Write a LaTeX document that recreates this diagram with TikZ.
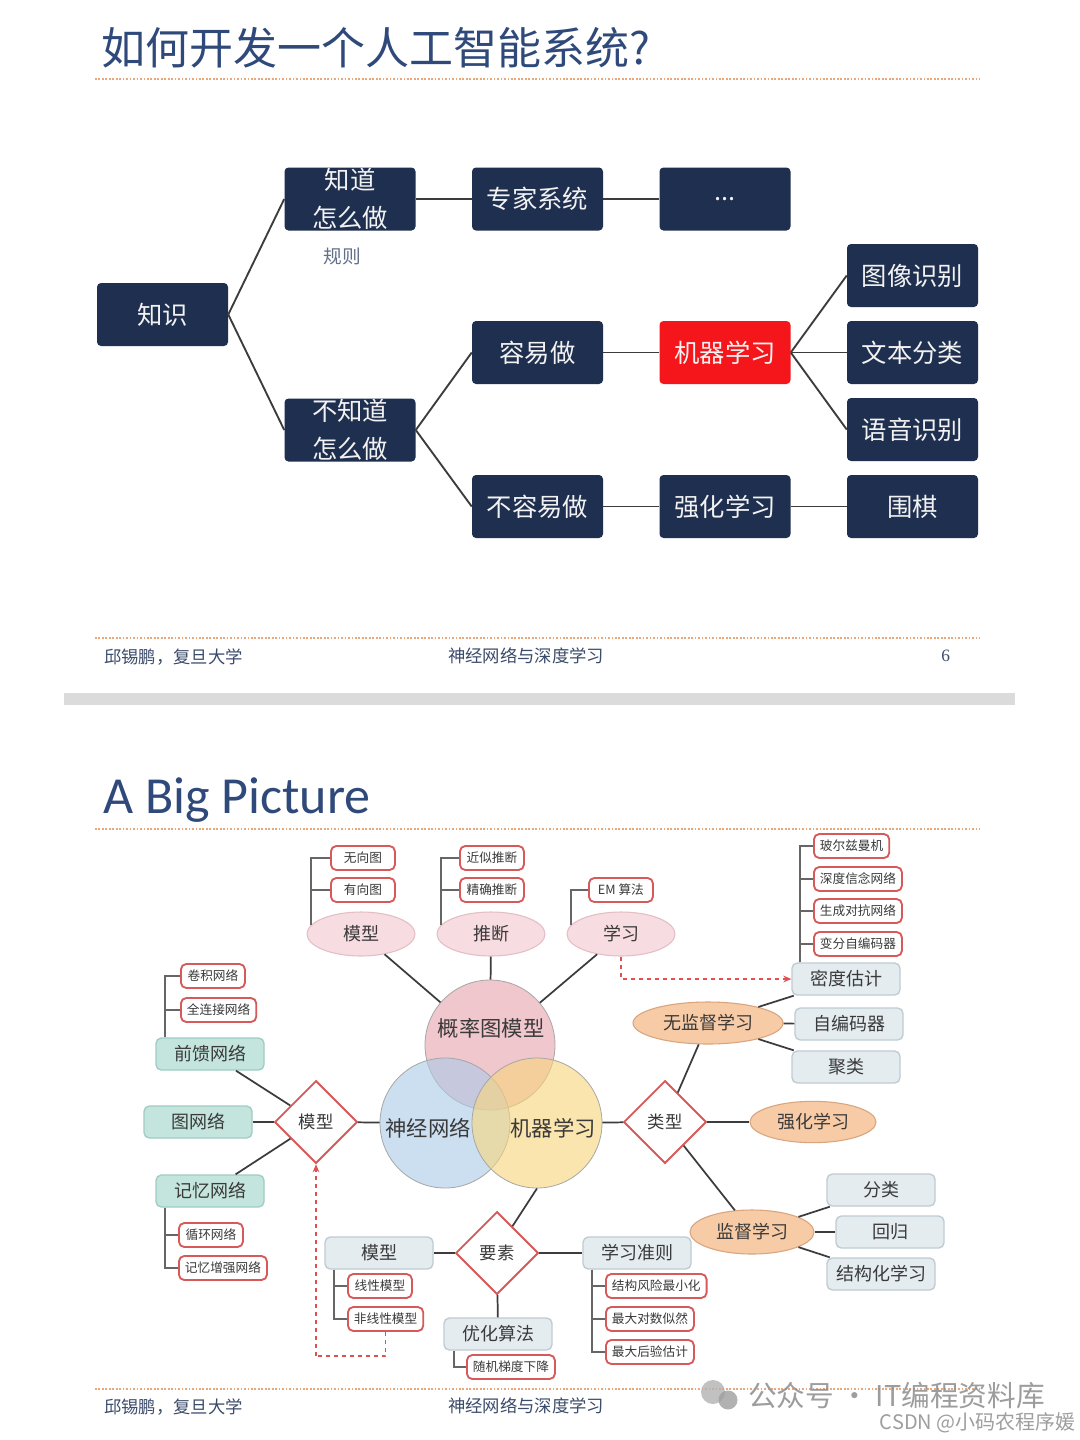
\documentclass[tikz,border=0pt]{standalone}
\usepackage{fontspec}
\setmainfont{Liberation Serif}
\newfontfamily\cjk{Noto Sans CJK SC}
\newfontfamily\latin{Carlito}
\usetikzlibrary{shapes.geometric,arrows.meta,calc}
\definecolor{navy}{HTML}{1E2F4F}
\definecolor{titleblue}{HTML}{2F4A7A}
\definecolor{dotorange}{HTML}{E9A77A}
\definecolor{footblue}{HTML}{3B4B6B}
\definecolor{linegrey}{HTML}{3C3C3C}
\definecolor{mlred}{HTML}{F5161B}
\definecolor{boxred}{HTML}{D65A5A}
\definecolor{greyfill}{HTML}{E4ECF0}
\definecolor{greydraw}{HTML}{BFCBD3}
\definecolor{tealfill}{HTML}{C4E5DE}
\definecolor{tealdraw}{HTML}{9FCCC3}
\definecolor{pinkfill}{HTML}{F7DCE1}
\definecolor{pinkdraw}{HTML}{E3BEC5}
\definecolor{orfill}{HTML}{F6CBA6}
\definecolor{ordraw}{HTML}{D9A47E}
\definecolor{vpink}{HTML}{E6A3AD}
\definecolor{vblue}{HTML}{AACBE9}
\definecolor{vyellow}{HTML}{F8D57B}
\definecolor{txtgrey}{HTML}{3A3A3A}
\definecolor{offwhite}{HTML}{F2F2F2}
\definecolor{dashred}{HTML}{E05050}
\tikzset{
  navybox/.style={fill=navy, rounded corners=3pt, minimum width=98.25pt, minimum height=47.25pt,
    text=offwhite, font=\cjk\fontsize{19}{28.5}\selectfont, inner sep=0pt, align=center},
  tline/.style={draw=linegrey, line width=1.4pt},
  dotline/.style={draw=dotorange, line width=1.3pt, dash pattern=on 1.3pt off 1.3pt},
  footer/.style={anchor=west, text=footblue, font=\cjk\fontsize{13}{13}\selectfont, inner sep=0pt},
  venn/.style={circle, minimum size=97.5pt, inner sep=0pt, draw=black!35, line width=0.6pt, fill opacity=0.6},
  venntext/.style={text=txtgrey, font=\cjk\fontsize{16}{16}\selectfont, inner sep=0pt},
  pinkell/.style={ellipse, minimum width=81pt, minimum height=33pt, inner sep=0pt, fill=pinkfill, draw=pinkdraw,
    line width=0.8pt, text=txtgrey, font=\cjk\fontsize{13.5}{14}\selectfont},
  orell/.style={ellipse, inner sep=0pt, fill=orfill, draw=ordraw, line width=0.8pt, text=txtgrey,
    font=\cjk\fontsize{13.5}{14}\selectfont},
  redbox/.style={draw=boxred, line width=1.4pt, fill=white, rounded corners=4pt, minimum height=18pt,
    minimum width=48pt, inner xsep=4.5pt, inner ysep=0pt, font=\cjk\fontsize{9.5}{10}\selectfont,
    text=txtgrey, anchor=west},
  greybox/.style={rectangle, rounded corners=4pt, minimum width=81pt, minimum height=24pt, inner sep=0pt,
    fill=greyfill, draw=greydraw, line width=1pt, text=txtgrey, font=\cjk\fontsize{13.5}{14}\selectfont},
  tealbox/.style={greybox, fill=tealfill, draw=tealdraw},
  dmd/.style={diamond, minimum width=62pt, minimum height=62pt, inner sep=0pt, fill=white, draw=boxred,
    line width=1.4pt, text=txtgrey, font=\cjk\fontsize{13}{14}\selectfont},
  cline/.style={draw=linegrey, line width=1.3pt},
  treeline/.style={draw=black!60, line width=1.3pt},
  dasharrow/.style={draw=dashred, line width=1pt, dashed, -{Stealth[length=6pt,width=5pt]}},
  dashline/.style={draw=dashred, line width=1pt, dashed}
}
\begin{document}
\begin{tikzpicture}[x=0.75pt,y=-0.75pt]
\useasboundingbox (0,0) rectangle (1080,1440);
\fill[white] (0,0) rectangle (1080,1440);

% ---------------- Slide 1 ----------------
\node[anchor=west, inner sep=0pt, text=titleblue, font=\cjk\fontsize{33}{33}\selectfont] (t1) at (101,48) {如何开发一个人工智能系统?};
\draw[dotline] (95,79) -- (980,79);

\node[navybox] (zs) at (162.5,314.5) {知识};
\node[navybox] (zd) at (350,199) {知道\\怎么做};
\node[navybox] (bzd) at (350,430) {不知道\\怎么做};
\node[navybox] (zj) at (537.5,199) {专家系统};
\node[navybox] (dots) at (725,199) {...};
\node[navybox] (ryz) at (537.5,352.5) {容易做};
\node[navybox, fill=mlred] (jqxx) at (725,352.5) {机器学习};
\node[navybox] (bryz) at (537.5,506.5) {不容易做};
\node[navybox] (qhxx) at (725,506.5) {强化学习};
\node[navybox] (wq) at (912.5,506.5) {围棋};
\node[navybox] (txsb) at (912.5,275.5) {图像识别};
\node[navybox] (wbfl) at (912.5,352.5) {文本分类};
\node[navybox] (yysb) at (912.5,429.5) {语音识别};
\node[text=footblue!80, font=\cjk\fontsize{14}{14}\selectfont, inner sep=0pt] (gz) at (342,256) {规则};

\draw[tline] (zs.east) -- (zd.west);
\draw[tline] (zs.east) -- (bzd.west);
\draw[tline] (zd.east) -- (zj.west);
\draw[tline] (zj.east) -- (dots.west);
\draw[tline] (bzd.east) -- (ryz.west);
\draw[tline] (bzd.east) -- (bryz.west);
\draw[tline] (ryz.east) -- (jqxx.west);
\draw[tline] (jqxx.east) -- (txsb.west);
\draw[tline] (jqxx.east) -- (wbfl.west);
\draw[tline] (jqxx.east) -- (yysb.west);
\draw[tline] (bryz.east) -- (qhxx.west);
\draw[tline] (qhxx.east) -- (wq.west);

\draw[dotline] (95,638) -- (980,638);
\node[footer] (f1a) at (104,657) {邱锡鹏，复旦大学};
\node[footer] (f1b) at (448,656) {神经网络与深度学习};
\node[footer, font=\fontsize{13}{13}\selectfont] (f1c) at (941,656) {6};

\fill[black!14] (64,693) rectangle (1015,705);

% ---------------- Slide 2 ----------------
\node[anchor=base west, inner sep=0pt, text=titleblue, font=\latin\fontsize{39}{39}\selectfont] (t2) at (103,813) {A Big Picture};
\draw[dotline] (95,829) -- (980,829);

% Venn
\node[venn, fill=vpink] (pgm) at (490,1045) {};
\node[venn, fill=vblue] (nn) at (445,1123) {};
\node[venn, fill=vyellow] (ml) at (537,1123) {};
\node[venntext] (pgmt) at (491,1028) {概率图模型};
\node[venntext] (nnt) at (428,1128) {神经网络};
\node[venntext] (mlt) at (553,1128) {机器学习};

% top ellipses
\node[pinkell] (mx) at (361,934) {模型};
\node[pinkell] (tdl) at (491,934) {推断};
\node[pinkell] (xx) at (621,934) {学习};
\node[redbox] (wxt) at (330,858) {无向图};
\node[redbox] (yxt) at (330,890) {有向图};
\node[redbox] (jstd) at (459,858) {近似推断};
\node[redbox] (jqtd) at (459,890) {精确推断};
\node[redbox] (em) at (588,890) {EM 算法};
\draw[cline] (mx) -- (pgm);
\draw[cline] (tdl) -- (pgm);
\draw[cline] (xx) -- (pgm);
\draw[treeline] (mx.170) |- (wxt.west);
\draw[treeline] (mx.170) |- (yxt.west);
\draw[treeline] (tdl.170) |- (jstd.west);
\draw[treeline] (tdl.170) |- (jqtd.west);
\draw[treeline] (xx.170) |- (em.west);

% right: unsupervised
\node[greybox] (mdgj) at (846,979) {密度估计};
\node[greybox] (zbmq) at (849,1024) {自编码器};
\node[greybox] (jl) at (846,1067) {聚类};
\node[redbox] (bezm) at (813,846) {玻尔兹曼机};
\node[redbox] (sdxn) at (813,879) {深度信念网络};
\node[redbox] (scdk) at (813,911) {生成对抗网络};
\node[redbox] (bfzb) at (813,944) {变分自编码器};
\draw[treeline] ([xshift=6.75pt]mdgj.north west) |- (bezm.west);
\draw[treeline] ([xshift=6.75pt]mdgj.north west) |- (sdxn.west);
\draw[treeline] ([xshift=6.75pt]mdgj.north west) |- (scdk.west);
\draw[treeline] ([xshift=6.75pt]mdgj.north west) |- (bfzb.west);
\node[orell, minimum width=112.5pt, minimum height=31.5pt] (wjd) at (708,1023) {无监督学习};
\draw[cline] (wjd) -- (mdgj);
\draw[cline] (wjd) -- (zbmq);
\draw[cline] (wjd) -- (jl);
\draw[dasharrow] (xx.south) |- (mdgj.west);

% type diamond
\node[dmd] (lx) at (665,1122) {类型};
\node[orell, minimum width=94.5pt, minimum height=31pt] (qh) at (813,1122) {强化学习};
\node[orell, minimum width=93pt, minimum height=33pt] (jd) at (752,1232) {监督学习};
\node[greybox] (fl) at (881,1190) {分类};
\node[greybox] (hg) at (890,1232) {回归};
\node[greybox] (jgh) at (881,1274) {结构化学习};
\draw[cline] (ml) -- (lx);
\draw[cline] (lx) -- (wjd);
\draw[cline] (lx) -- (qh);
\draw[cline] (lx) -- (jd);
\draw[cline] (jd) -- (fl);
\draw[cline] (jd) -- (hg);
\draw[cline] (jd) -- (jgh);

% left: model diamond
\node[dmd] (mxd) at (316,1122) {模型};
\node[tealbox] (qk) at (210,1054) {前馈网络};
\node[tealbox] (twl) at (198,1122) {图网络};
\node[tealbox] (jy) at (210,1191) {记忆网络};
\node[redbox] (jj) at (180,976) {卷积网络};
\node[redbox] (qlj) at (180,1010) {全连接网络};
\node[redbox] (xh) at (178,1235) {循环网络};
\node[redbox] (jyzq) at (178,1268) {记忆增强网络};
\draw[cline] (mxd) -- (nn);
\draw[cline] (mxd) -- (qk);
\draw[cline] (mxd) -- (twl);
\draw[cline] (mxd) -- (jy);
\draw[treeline] ([xshift=7.5pt]qk.north west) |- (jj.west);
\draw[treeline] ([xshift=7.5pt]qk.north west) |- (qlj.west);
\draw[treeline] ([xshift=7.5pt]jy.south west) |- (xh.west);
\draw[treeline] ([xshift=7.5pt]jy.south west) |- (jyzq.west);

% bottom: elements diamond
\node[dmd] (ys) at (497,1253) {要素};
\node[greybox] (mxg) at (379,1253) {模型};
\node[greybox] (xxzz) at (637,1253) {学习准则};
\node[greybox] (yhsf) at (498,1334) {优化算法};
\node[redbox] (xxmx) at (347,1286) {线性模型};
\node[redbox] (fxxmx) at (347,1319) {非线性模型};
\node[redbox] (sjtd) at (466,1367) {随机梯度下降};
\node[redbox] (jgfx) at (605,1286) {结构风险最小化};
\node[redbox] (zdds) at (605,1319) {最大对数似然};
\node[redbox] (zdhy) at (605,1352) {最大后验估计};
\draw[cline] (ys.60) -- (ml.south);
\draw[cline] (mxg) -- (ys);
\draw[cline] (ys) -- (xxzz);
\draw[cline] (ys) -- (yhsf);
\draw[treeline] ([xshift=7.5pt]mxg.south west) |- (xxmx.west);
\draw[treeline] ([xshift=7.5pt]mxg.south west) |- (fxxmx.west);
\draw[treeline] ([xshift=8.25pt]yhsf.south west) |- (sjtd.west);
\draw[treeline] ([xshift=7.5pt]xxzz.south west) |- (jgfx.west);
\draw[treeline] ([xshift=7.5pt]xxzz.south west) |- (zdds.west);
\draw[treeline] ([xshift=7.5pt]xxzz.south west) |- (zdhy.west);
\coordinate (dc) at (316,1356);
\draw[dashline] (fxxmx.south) |- (dc);
\draw[dasharrow] (dc) -- (mxd.south);

% footer 2
\draw[dotline] (95,1389) -- (980,1389);
\node[footer] (f2a) at (104,1407) {邱锡鹏，复旦大学};
\node[footer] (f2b) at (448,1406) {神经网络与深度学习};

% watermark
\fill[black!30, opacity=0.8] (713,1392) circle (12);
\fill[black!38, opacity=0.8] (728,1400) circle (9.5);
\node[anchor=west, inner sep=0pt, text=black!45, font=\cjk\fontsize{21.5}{21.5}\selectfont, fill opacity=0.85, text opacity=0.85] (wm1) at (748,1396) {公众号 · IT编程资料库};
\node[anchor=east, inner sep=0pt, text=black!38, font=\cjk\fontsize{15}{15}\selectfont] (wm2) at (1076,1423) {CSDN @小码农程序媛};
\end{tikzpicture}
\end{document}
